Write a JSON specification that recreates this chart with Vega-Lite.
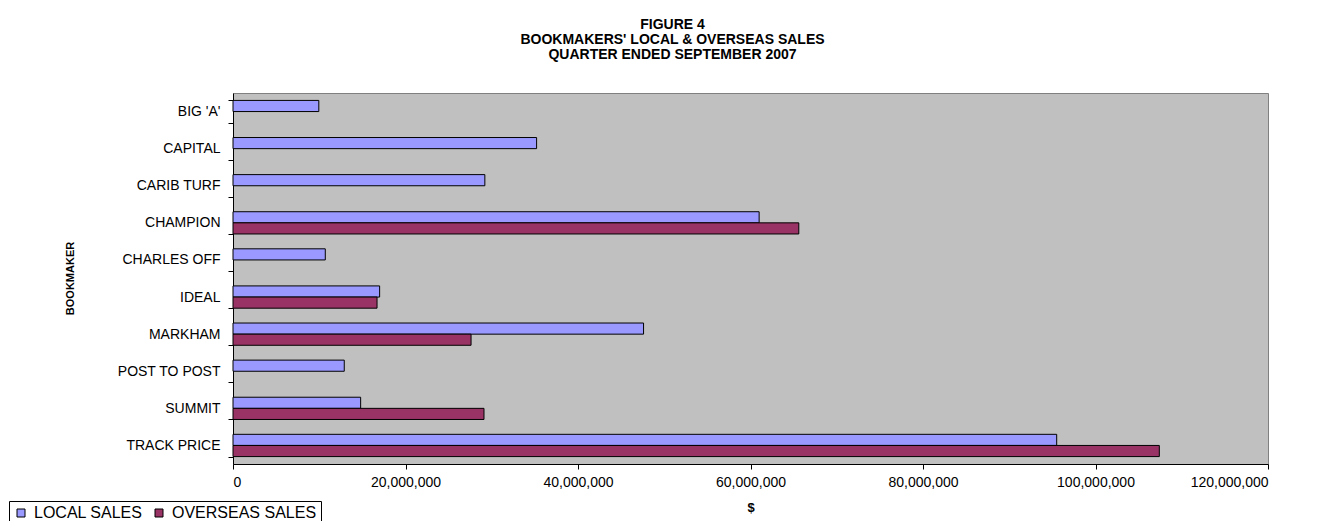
{
  "$schema": "https://vega.github.io/schema/vega-lite/v6.json",
  "width": 1035,
  "height": 371,
  "autosize": {"type": "none"},
  "padding": {"left": 233, "top": 93, "right": 57, "bottom": 57},
  "background": "white",
  "title": {
    "text": ["FIGURE 4", "BOOKMAKERS' LOCAL & OVERSEAS SALES", "QUARTER ENDED SEPTEMBER 2007"],
    "font": "Liberation Sans",
    "fontSize": 14,
    "fontWeight": "bold",
    "lineHeight": 15,
    "anchor": "middle",
    "dx": -78,
    "offset": 24,
    "color": "black"
  },
  "data": {
    "values": [
      {"bookmaker": "BIG 'A'", "series": "LOCAL SALES", "value": 9950000},
      {"bookmaker": "CAPITAL", "series": "LOCAL SALES", "value": 35200000},
      {"bookmaker": "CARIB TURF", "series": "LOCAL SALES", "value": 29200000},
      {"bookmaker": "CHAMPION", "series": "LOCAL SALES", "value": 61000000},
      {"bookmaker": "CHAMPION", "series": "OVERSEAS SALES", "value": 65600000},
      {"bookmaker": "CHARLES OFF", "series": "LOCAL SALES", "value": 10700000},
      {"bookmaker": "IDEAL", "series": "LOCAL SALES", "value": 17000000},
      {"bookmaker": "IDEAL", "series": "OVERSEAS SALES", "value": 16700000},
      {"bookmaker": "MARKHAM", "series": "LOCAL SALES", "value": 47600000},
      {"bookmaker": "MARKHAM", "series": "OVERSEAS SALES", "value": 27600000},
      {"bookmaker": "POST TO POST", "series": "LOCAL SALES", "value": 12900000},
      {"bookmaker": "SUMMIT", "series": "LOCAL SALES", "value": 14800000},
      {"bookmaker": "SUMMIT", "series": "OVERSEAS SALES", "value": 29100000},
      {"bookmaker": "TRACK PRICE", "series": "LOCAL SALES", "value": 95500000},
      {"bookmaker": "TRACK PRICE", "series": "OVERSEAS SALES", "value": 107400000}
    ]
  },
  "mark": {"type": "bar", "stroke": "black", "strokeWidth": 1},
  "encoding": {
    "y": {
      "field": "bookmaker",
      "type": "nominal",
      "sort": ["BIG 'A'", "CAPITAL", "CARIB TURF", "CHAMPION", "CHARLES OFF", "IDEAL", "MARKHAM", "POST TO POST", "SUMMIT", "TRACK PRICE"],
      "scale": {"paddingInner": 0.4, "paddingOuter": 0.2},
      "axis": {
        "title": "BOOKMAKER",
        "titleFont": "Liberation Sans",
        "titleFontSize": 11,
        "titleFontWeight": "bold",
        "titleColor": "black",
        "titleAngle": 270,
        "titleX": -163,
        "titleY": 185,
        "titleBaseline": "middle",
        "titleAlign": "center",
        "tickBand": "extent",
        "tickSize": 5,
        "tickColor": "black",
        "domainColor": "black",
        "labelPadding": 8,
        "labelFont": "Liberation Sans",
        "labelFontSize": 14,
        "labelColor": "black",
        "grid": false
      }
    },
    "yOffset": {"field": "series", "type": "nominal", "sort": ["LOCAL SALES", "OVERSEAS SALES"]},
    "x": {
      "field": "value",
      "type": "quantitative",
      "scale": {"domain": [0, 120000000], "nice": false},
      "axis": {
        "values": [0, 20000000, 40000000, 60000000, 80000000, 100000000, 120000000],
        "format": ",d",
        "title": "$",
        "titleFont": "Liberation Sans",
        "titleFontSize": 13,
        "titleFontWeight": "bold",
        "titleColor": "black",
        "titlePadding": 12,
        "tickSize": 5,
        "tickColor": "black",
        "domainColor": "black",
        "labelPadding": 6,
        "labelFont": "Liberation Sans",
        "labelFontSize": 14,
        "labelColor": "black",
        "grid": false
      }
    },
    "color": {
      "field": "series",
      "type": "nominal",
      "scale": {"domain": ["LOCAL SALES", "OVERSEAS SALES"], "range": ["#9999FF", "#993366"]},
      "legend": {
        "orient": "none",
        "legendX": -224,
        "legendY": 408,
        "direction": "horizontal",
        "title": null,
        "strokeColor": "black",
        "fillColor": "white",
        "padding": 4,
        "symbolType": "square",
        "symbolSize": 64,
        "symbolStrokeColor": "black",
        "symbolStrokeWidth": 1,
        "symbolOpacity": 1,
        "labelFont": "Liberation Sans",
        "labelFontSize": 16,
        "labelColor": "black",
        "labelOffset": 5,
        "columnPadding": 8
      }
    }
  },
  "config": {
    "view": {"fill": "#C0C0C0", "stroke": "#808080", "strokeWidth": 1}
  }
}
